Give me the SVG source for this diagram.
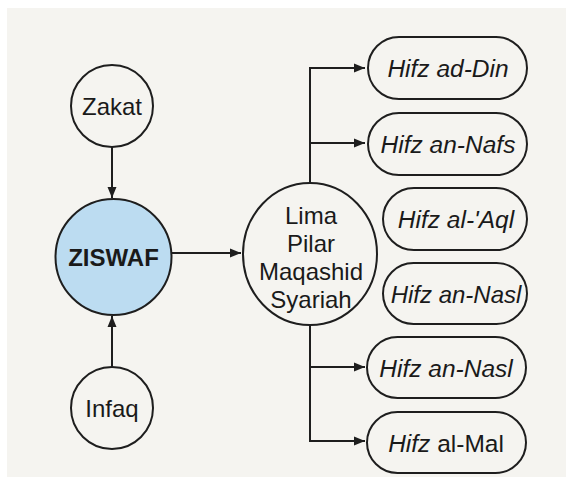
<svg xmlns="http://www.w3.org/2000/svg" width="566" height="479" viewBox="0 0 566 479">
<style>
.node{fill:#f5f4f0;stroke:#1e1e1e;stroke-width:2}
.blue{fill:#bcdcf1;stroke:#1e1e1e;stroke-width:2}
.t{font-family:"Liberation Sans",Arial,sans-serif;font-size:24px;fill:#1a1a1a;text-anchor:middle}
.it{font-style:italic}
.p{font-size:24.5px}
.b{font-weight:bold;font-size:24px}
.c{fill:none;stroke:#1e1e1e;stroke-width:2}
</style>
<defs>
<marker id="ah" markerUnits="userSpaceOnUse" markerWidth="12" markerHeight="10" refX="11" refY="5" orient="auto">
<path d="M0,0.5 L11,5 L0,9.5 z" fill="#1e1e1e"/>
</marker>
</defs>
<rect x="0" y="0" width="566" height="479" fill="#ffffff"/>
<rect x="7" y="8" width="559" height="469" fill="#f5f4f0"/>
<g id="connectors">
<line class="c" x1="112" y1="147" x2="112" y2="198" marker-end="url(#ah)"/>
<line class="c" x1="112" y1="367" x2="112" y2="316" marker-end="url(#ah)"/>
<line class="c" x1="172" y1="253" x2="241" y2="253" marker-end="url(#ah)"/>
<path class="c" d="M310,183 V68 H365" marker-end="url(#ah)"/>
<line class="c" x1="310" y1="143" x2="365" y2="143" marker-end="url(#ah)"/>
<path class="c" d="M310,325 V441 H365" marker-end="url(#ah)"/>
<line class="c" x1="310" y1="367" x2="365" y2="367" marker-end="url(#ah)"/>
</g>
<g id="zakat">
<circle class="node" cx="112" cy="106" r="41"/>
<text class="t" x="112" y="114.5">Zakat</text>
</g>
<g id="ziswaf">
<circle class="blue" cx="113.5" cy="257" r="58"/>
<text class="t b" x="113.5" y="265.5">ZISWAF</text>
</g>
<g id="infaq">
<circle class="node" cx="112" cy="408" r="41"/>
<text class="t" x="112" y="416.5">Infaq</text>
</g>
<g id="lima-pilar">
<ellipse class="node" cx="310" cy="254" rx="67" ry="71"/>
<text class="t" x="311" y="224">Lima</text>
<text class="t" x="311" y="252">Pilar</text>
<text class="t" x="311" y="280">Maqashid</text>
<text class="t" x="311" y="308">Syariah</text>
</g>
<g id="hifz-ad-din">
<rect class="node" x="368" y="37" width="159" height="62" rx="31"/>
<text class="t p it" x="448" y="77">Hifz ad-Din</text>
</g>
<g id="hifz-an-nafs">
<rect class="node" x="368" y="113" width="159" height="62" rx="31"/>
<text class="t p it" x="448" y="153">Hifz an-Nafs</text>
</g>
<g id="hifz-al-aql">
<rect class="node" x="383" y="188" width="144" height="62" rx="31"/>
<text class="t p it" x="456" y="228">Hifz al-'Aql</text>
</g>
<g id="hifz-an-nasl-1">
<rect class="node" x="383" y="263" width="144" height="61" rx="30.5"/>
<text class="t it" x="456" y="302.5">Hifz an-Nasl</text>
</g>
<g id="hifz-an-nasl-2">
<rect class="node" x="367" y="337" width="159" height="61" rx="30.5"/>
<text class="t p it" x="446" y="376.5">Hifz an-Nasl</text>
</g>
<g id="hifz-al-mal">
<rect class="node" x="367" y="412" width="159" height="61" rx="30.5"/>
<text class="t p" x="446" y="451.5"><tspan class="it">Hifz</tspan> al-Mal</text>
</g>
</svg>
